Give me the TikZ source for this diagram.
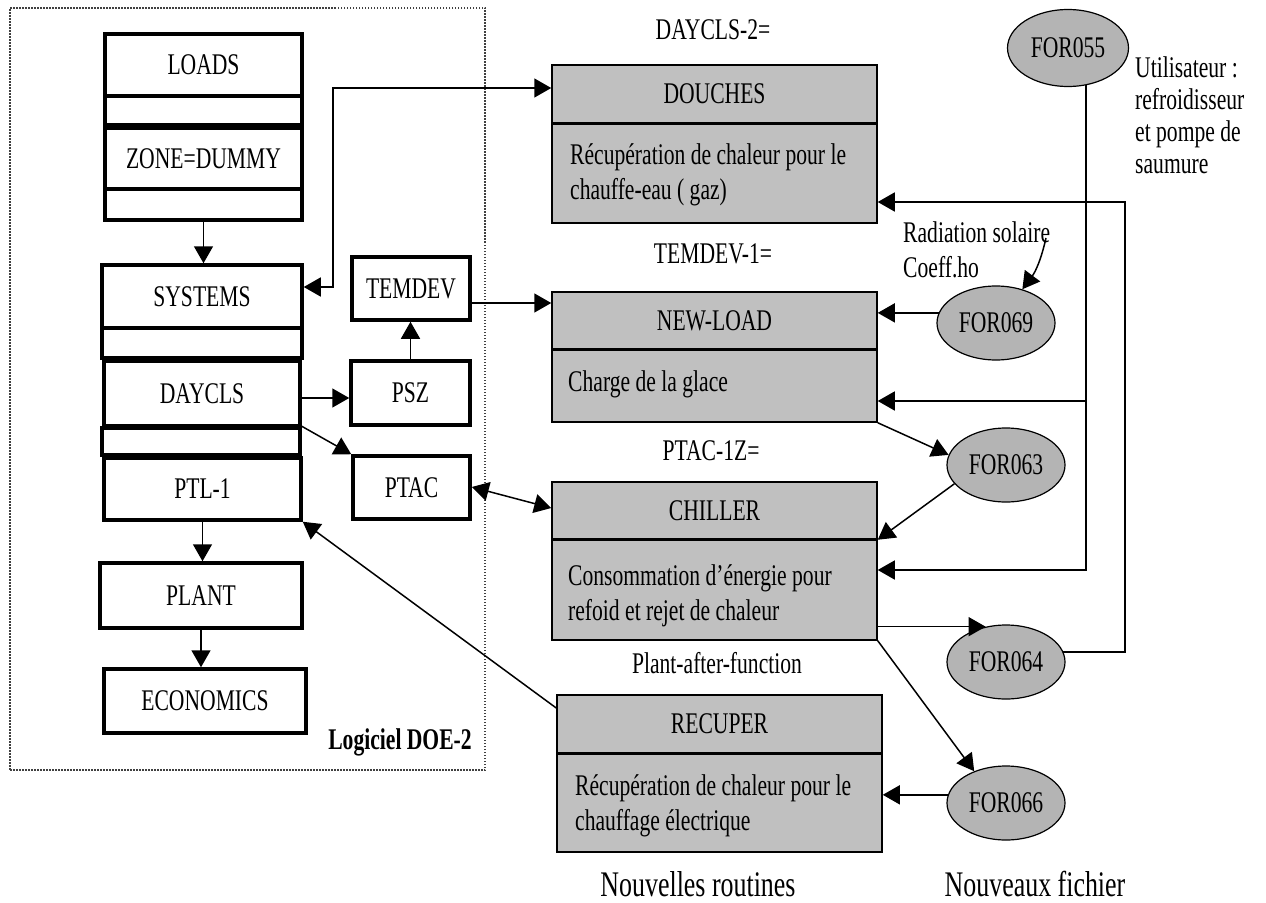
\documentclass[tikz,border=0pt]{standalone}
\usepackage{fontspec}
\setmainfont{Liberation Serif}[FakeStretch=0.72]
\usetikzlibrary{shapes.geometric, arrows.meta, fit}
\definecolor{boxgray}{RGB}{192,192,192}
\definecolor{ellgray}{RGB}{180,180,180}
\newcommand\lblfont{\fontsize{30}{35}\selectfont}
\newcommand\bigfont{\fontsize{36}{40}\selectfont}
\tikzset{
  sz/.style 2 args={minimum width=#1pt, minimum height=#2pt},
  lbox/.style={draw, line width=3.5pt, inner sep=0pt, font=\lblfont},
  gbox/.style={draw, line width=1.5pt, fill=boxgray, inner sep=0pt, font=\lblfont},
  ell/.style={ellipse, draw, line width=1.2pt, fill=ellgray, inner sep=0pt, font=\lblfont,
              minimum width=118pt, minimum height=74pt},
  arr/.style={line width=1.5pt, -{Triangle[length=17pt,width=19pt]}},
  darr/.style={line width=1.5pt, {Triangle[length=17pt,width=19pt]}-{Triangle[length=17pt,width=19pt]}},
  divider/.style={line width=3pt},
  txt/.style={inner sep=0pt, font=\lblfont},
  bodytxt/.style={inner sep=0pt, font=\lblfont, align=left, anchor=west},
}
\begin{document}
\begin{tikzpicture}[x=1pt, y=-1pt]
\useasboundingbox (0,0) rectangle (1266,902);

% dotted frame
\node[draw, line width=1.3pt, dash pattern=on 1.5pt off 1.5pt, color=black!75,
      fit={(10,8)(485,770)}, inner sep=0pt] (frame) {};

% left column
\node[lbox, sz={197}{62}] (loads) at (203.5,65) {LOADS};
\node[lbox, sz={197}{29}] (s1) at (203.5,110.5) {};
\node[lbox, sz={197}{61}] (zone) at (203.5,158.5) {ZONE=DUMMY};
\node[lbox, sz={197}{31}] (s2) at (203.5,204.5) {};
\node[lbox, sz={200}{63}] (systems) at (202,296.5) {SYSTEMS};
\node[lbox, sz={200}{30}] (s3) at (202,343) {};
\node[lbox, sz={196}{65}] (daycls) at (202,393.5) {DAYCLS};
\node[lbox, sz={198}{27}] (s4) at (201,441.5) {};
\node[lbox, sz={197}{62}] (ptl) at (202.5,489) {PTL-1};
\node[lbox, sz={202}{65}] (plant) at (201,595.5) {PLANT};
\node[lbox, sz={202}{64}] (econ) at (205,701) {ECONOMICS};
\node[txt, font=\lblfont\bfseries] (ldoe) at (400,742) {Logiciel DOE-2};

% small boxes
\node[lbox, sz={118}{63}] (temdev) at (411,288.5) {TEMDEV};
\node[lbox, sz={119}{64}] (psz) at (410.5,393) {PSZ};
\node[lbox, sz={117}{63}] (ptac) at (411.5,487.5) {PTAC};

% gray boxes
\node[txt] (lday) at (713,30) {DAYCLS-2=};
\node[gbox, sz={325}{58}] (dt) at (714.5,94) {DOUCHES};
\node[gbox, sz={325}{100}] (db) at (714.5,173) {};
\draw[divider] (dt.south west) -- (dt.south east);
\node[bodytxt] (dtext) at (570,175) {Récupération de chaleur pour le\\chauffe-eau ( gaz)};

\node[txt] (ltem) at (713,254) {TEMDEV-1=};
\node[gbox, sz={325}{57}] (nt) at (714.5,320.5) {NEW-LOAD};
\node[gbox, sz={325}{73}] (nb) at (714.5,385.5) {};
\draw[divider] (nt.south west) -- (nt.south east);
\node[bodytxt] (ntext) at (568,384) {Charge de la glace};

\node[txt] (lptac) at (711,451) {PTAC-1Z=};
\node[gbox, sz={325}{57}] (ct) at (714.5,510.5) {CHILLER};
\node[gbox, sz={325}{101}] (cb) at (714.5,589.5) {};
\draw[divider] (ct.south west) -- (ct.south east);
\node[bodytxt] (ctext) at (568,596) {Consommation d’énergie pour\\refoid et rejet de chaleur};

\node[txt] (lplant) at (717,663) {Plant-after-function};
\node[gbox, sz={325}{58}] (rt) at (719.5,724) {RECUPER};
\node[gbox, sz={325}{99}] (rb) at (719.5,802.5) {};
\draw[divider] (rt.south west) -- (rt.south east);
\node[bodytxt] (rtext) at (575,806) {Récupération de chaleur pour le\\chauffage électrique};

\node[txt, font=\bigfont] (lnr) at (698,884) {Nouvelles routines};
\node[txt, font=\bigfont] (lnf) at (1035,884) {Nouveaux fichier};

% ellipses
\node[ell, minimum width=121pt, minimum height=77pt] (f55) at (1068,48) {FOR055};
\node[ell] (f69) at (996,323) {FOR069};
\node[ell] (f63) at (1006,465) {FOR063};
\node[ell] (f64) at (1006,662) {FOR064};
\node[ell] (f66) at (1006,803) {FOR066};

\node[bodytxt, font={\fontsize{30}{32}\selectfont}] (lutil) at (1135,115)
  {Utilisateur :\\refroidisseur\\et pompe de\\saumure};
\node[bodytxt] (lrad) at (903,250) {Radiation solaire\\Coeff.ho};
\coordinate (radend) at (1046,238);

% left column connectors
\draw[arr] (s2.south) -- (s2.south |- systems.north);
\draw[arr] (ptl.south) -- (ptl.south |- plant.north);
\draw[arr] (plant.south) -- (plant.south |- econ.north);
\draw[darr] (systems.east |- 0,287) -- (333,287) |- (dt.west |- 0,88);
\draw[arr] (psz.north) -- (psz.north |- temdev.south);
\draw[arr] (daycls.east |- 0,398) -- (psz.west |- 0,398);
\draw[arr] (s4.north east) -- (ptac.north west);
\draw[darr] (ptac.east |- 0,487) -- (ct.west |- 0,508);
\draw[arr] (temdev.east |- 0,303) -- (nt.west |- 0,303);
\draw[arr] (rt.west |- 0,708) -- (ptl.south east);

% right side connectors
\draw[arr] (f55.-64) -- (f55.-64 |- 0,570) -- (cb.east |- 0,570);
\draw[arr] (f55.-64 |- 0,401) -- (nb.east |- 0,401);
\draw[arr] (f69.170) -- (f69.170 -| nt.east);
\draw[arr] (f64.10) -| (1125,202) -- (db.east |- 0,202);
\draw[arr] (nb.south east) -- (f63.170);
\draw[arr] (f63.200) -- (ct.south east);
\draw[arr] (cb.east |- f64.120) -- (f64.120);
\draw[arr] (cb.south east) -- (f66.135);
\draw[arr] (f66.172) -- (f66.172 -| rb.east);
\draw[arr] (radend) to[bend left=12] (f69.52);
\end{tikzpicture}
\end{document}
